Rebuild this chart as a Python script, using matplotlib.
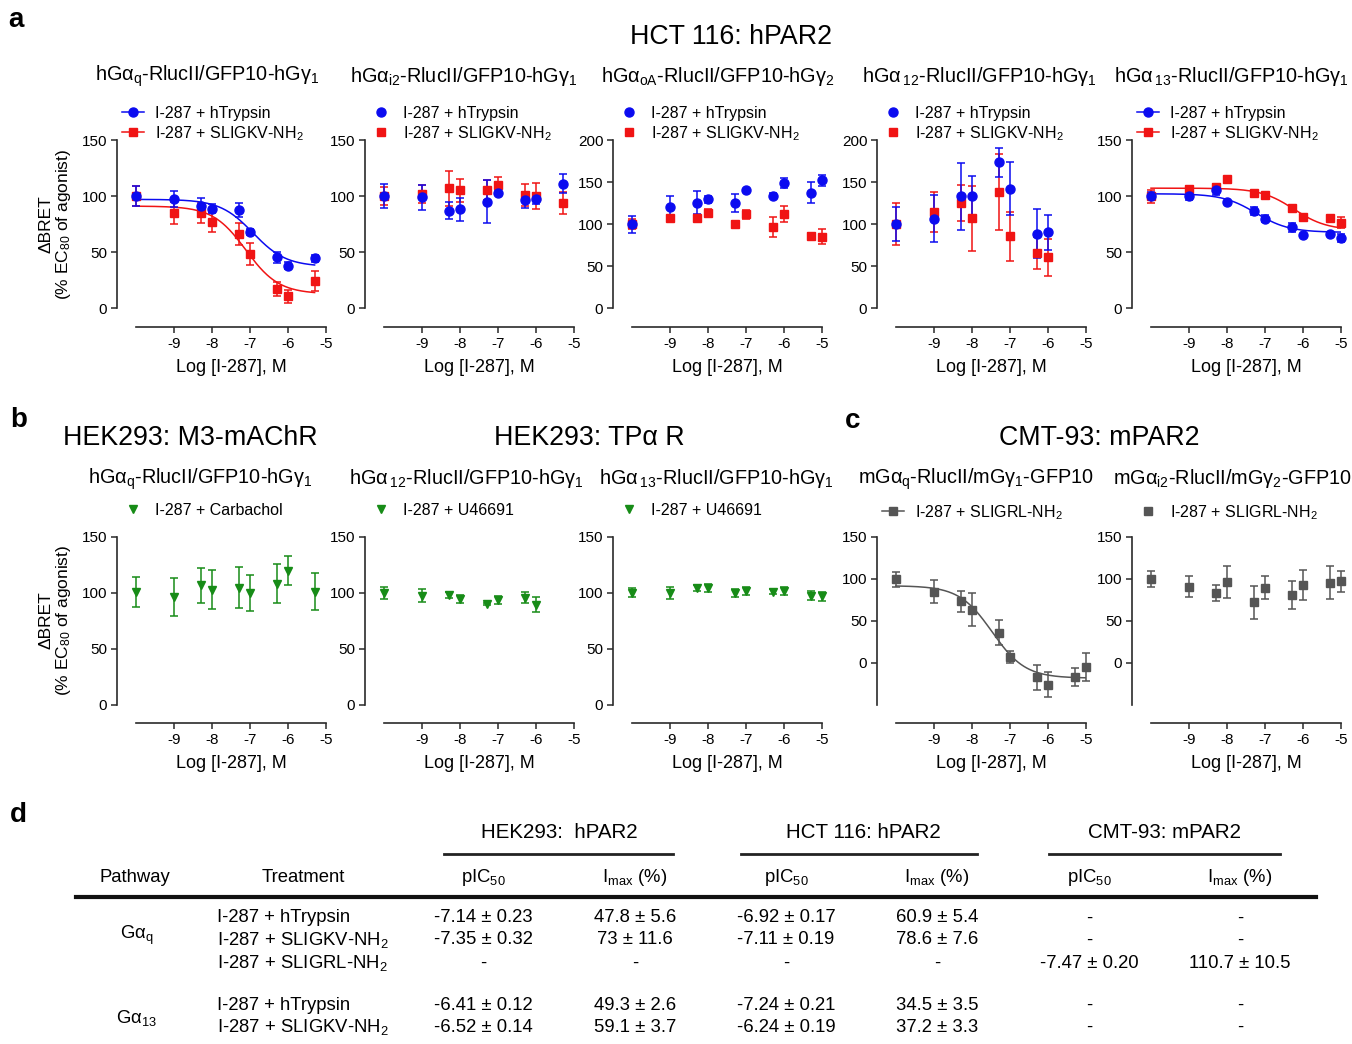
#!/usr/bin/env python
# -*- coding: utf-8 -*-

"""
I-287 concentration-response curves (BRET, % EC80 of agonist) for
HCT 116, HEK293 and CMT-93 cells, plus the summary table of pIC50 / Imax.
"""

import numpy as np
import matplotlib.pyplot as plt
from matplotlib.lines import Line2D

plt.rcParams['font.family'] = ['Liberation Sans', 'DejaVu Sans']
plt.rcParams['mathtext.fontset'] = 'custom'
plt.rcParams['mathtext.rm'] = 'Liberation Sans'
plt.rcParams['mathtext.it'] = 'Liberation Sans:italic'
plt.rcParams['mathtext.bf'] = 'Liberation Sans:bold'
plt.rcParams['mathtext.default'] = 'regular'
plt.rcParams['axes.unicode_minus'] = False

# --- Data ---------------------------------------------------------------
# log [I-287] (M); -10 stands for the vehicle point
log_dose = [-10, -9, -8.3, -8, -7.3, -7, -6.3, -6, -5.3, -5]

# a: HCT 116 hPAR2
a_gq_tryp = [100, 97.3, 91, 88.7, 87.6, 67.8, 45.4, 37.7, 44.2]
a_gq_tryp_err = [9, 7, 7, 4, 6, 3, 5, 3, 3]
a_gq_slig = [100, 84.6, 84.9, 76.6, 66, 48.3, 16.8, 10.3, 24.4]
a_gq_slig_err = [9, 10, 9, 9, 10, 10, 6.5, 6, 9]

a_gi2_tryp = [100, 98.8, 87, 88, 95, 103, 96.5, 97.6, 111]
a_gi2_tryp_err = [11, 11, 7.5, 10.5, 19, 2, 7.5, 5, 8.5]
a_gi2_slig = [100, 102, 107, 105, 105.2, 109.4, 101, 100, 93.7]
a_gi2_slig_err = [8, 8, 15.5, 10, 9, 8, 10, 12, 9.5]

a_goa_tryp = [99.6, 120, 125.3, 129.2, 125.3, 140, 133.6, 149, 137.5, 151.8]
a_goa_tryp_err = [10, 13.7, 13.4, 4, 10.7, 2, 3, 6, 12, 6.5]
a_goa_slig = [99.6, 106.7, 106.7, 113, 100, 111.5, 96.4, 111.9, 85.8, 84.6]
a_goa_slig_err = [6, 3, 3, 5, 4, 5, 11.5, 9, 3, 9]

a_g12_tryp = [100, 106.3, 133.2, 133.2, 173.5, 142, 88.5, 90.1]
a_g12_tryp_err = [20.7, 28, 40, 24, 17, 31.6, 29, 20.5]
a_g12_slig = [100, 114.2, 125, 106.7, 138, 85.4, 65.6, 60.5]
a_g12_slig_err = [25.5, 24, 21, 39, 45, 29, 19, 22]

a_g13_tryp = [100, 100, 105.3, 94.7, 86.4, 79.6, 71.9, 64.8, 66.3, 62.7]
a_g13_tryp_err = [4, 4, 4, 1, 3.5, 3, 4, 0.5, 1.5, 3.5]
a_g13_slig = [99.7, 106.2, 107.7, 114.8, 102.4, 100.9, 89, 81, 80.8, 76.3]
a_g13_slig_err = [6, 3, 3, 0.5, 0.5, 0.5, 2, 0.5, 0.5, 5]

# fitted curves: top, bottom, logIC50
a_gq_tryp_fit = (97, 37, -6.92)
a_gq_slig_fit = (91, 12.6, -7.11)
a_g13_tryp_fit = (102, 67.6, -7.24)
a_g13_slig_fit = (107, 69.5, -6.24)

# b: HEK293 M3-mAChR / TPaR
b_gq_carb = [100.9, 96.4, 106.8, 103, 104.7, 100, 108.3, 120, 101]
b_gq_carb_err = [13.8, 16.6, 15.4, 17.5, 18.3, 15.8, 17.6, 13.3, 16.6]
b_g12_u46 = [100, 97.6, 98.2, 94.4, 90.5, 93.5, 95.9, 89.6]
b_g12_u46_err = [5.6, 5.6, 2.5, 3.5, 1, 3.5, 5, 6.4]
b_g13_u46 = [100.3, 100, 104.4, 104.1, 100, 101.5, 101.2, 101.8, 97.6, 97.3]
b_g13_u46_err = [4, 5.3, 2.5, 3.5, 3.5, 3.5, 2.5, 4, 4, 4]

# c: CMT-93 mPAR2
c_gq_sligrl = [99.9, 84.9, 73.4, 63.2, 36.3, 7.1, -17, -26, -17, -5.1]
c_gq_sligrl_err = [9, 13.8, 12.4, 19.7, 14.8, 6.9, 14.8, 14.8, 10.5, 16.8]
c_gi2_sligrl = [99.9, 90.8, 83.3, 96.7, 72.2, 89.6, 80.9, 92.8, 95.5, 97.5]
c_gi2_sligrl_err = [10, 12.8, 10, 18.8, 19.7, 13.8, 16.2, 18, 19.5, 12.4]
c_gq_sligrl_fit = (92, -18, -7.47)

# d: summary table
table_groups = ['HEK293:  hPAR2', 'HCT 116: hPAR2', 'CMT-93: mPAR2']
table_treatments = ['I-287 + hTrypsin', 'I-287 + SLIGKV-NH$_2$', 'I-287 + SLIGRL-NH$_2$',
                    'I-287 + hTrypsin', 'I-287 + SLIGKV-NH$_2$']
table_hek_pic50 = ['-7.14 ± 0.23', '-7.35 ± 0.32', '-', '-6.41 ± 0.12', '-6.52 ± 0.14']
table_hek_imax = ['47.8 ± 5.6', '73 ± 11.6', '-', '49.3 ± 2.6', '59.1 ± 3.7']
table_hct_pic50 = ['-6.92 ± 0.17', '-7.11 ± 0.19', '-', '-7.24 ± 0.21', '-6.24 ± 0.19']
table_hct_imax = ['60.9 ± 5.4', '78.6 ± 7.6', '-', '34.5 ± 3.5', '37.2 ± 3.3']
table_cmt_pic50 = ['-', '-', '-7.47 ± 0.20', '-', '-']
table_cmt_imax = ['-', '-', '110.7 ± 10.5', '-', '-']

BLUE = '#0b0bf0'
RED = '#f01414'
GREEN = '#178c17'
GREY = '#555555'
AXC = '#2a2a2a'

W, H = 1352, 1044
fig = plt.figure(figsize=(W / 100, H / 100), dpi=100)

# overlay in pixel coordinates for all free text and the table
ov = fig.add_axes([0, 0, 1, 1])
ov.set_xlim(0, W)
ov.set_ylim(H, 0)
ov.axis('off')
ov.patch.set_visible(False)


def logistic(x, fit):
    top, bottom, logic50 = fit
    return bottom + (top - bottom) / (1 + 10 ** (x - logic50))


def make_axes(left, top_px, bottom_px, ymax, ymin_spine, ylim_bottom):
    ax = fig.add_axes([left / W, 1 - bottom_px / H, 209 / W, (bottom_px - top_px) / H])
    ax.set_xlim(-10.5, -5)
    ax.set_ylim(ylim_bottom, ymax)
    for side in ('top', 'right'):
        ax.spines[side].set_visible(False)
    for side in ('left', 'bottom'):
        ax.spines[side].set_linewidth(1.2)
        ax.spines[side].set_color(AXC)
    ax.spines['bottom'].set_bounds(-10, -5)
    ax.spines['left'].set_bounds(ymin_spine, ymax)
    ax.set_xticks([-9, -8, -7, -6, -5])
    ax.set_xticklabels(['-9', '-8', '-7', '-6', '-5'])
    ax.set_yticks(np.arange(0, ymax + 1, 50))
    ax.tick_params(direction='out', length=4, width=1.1, color=AXC, labelsize=11, pad=3)
    # label centred on the drawn part of the x axis (-10 .. -5)
    ax.set_xlabel('Log [I-287], M', fontsize=13)
    ax.xaxis.set_label_coords(3.0 / 5.5, -0.17)
    return ax


def plot_series(ax, y, err, color, marker, ms, fit=None, fit_end=None):
    x = log_dose[:len(y)]
    ax.errorbar(x, y, yerr=err, fmt=marker, color=color, ms=ms, mec=color,
                ecolor=color, elinewidth=1.1, capsize=3, capthick=1.1, clip_on=False)
    if fit is not None:
        xs = np.linspace(-10, fit_end, 200)
        ax.plot(xs, logistic(xs, fit), color=color, lw=1.1)


def add_legend(ax, left, top_px, entries, with_line):
    handles = []
    labels = []
    for label, color, marker, ms in entries:
        handles.append(Line2D([], [], color=color, marker=marker, ms=ms,
                              ls='-' if with_line else 'none', lw=1.1))
        labels.append(label)
    ax.legend(handles, labels, loc='upper left', frameon=False,
              bbox_to_anchor=((left + 5) / W, 1 - top_px / H), bbox_transform=fig.transFigure,
              borderpad=0, borderaxespad=0, handlelength=1.4, handletextpad=0.65,
              labelspacing=0.18, fontsize=11.5)


cols = [117, 365, 613, 877, 1132]
tryp_lbl = 'I-287 + hTrypsin'
slig_lbl = 'I-287 + SLIGKV-NH$_2$'

# --- Row a ---
row_a = [
    (a_gq_tryp, a_gq_tryp_err, a_gq_slig, a_gq_slig_err, 150, a_gq_tryp_fit, a_gq_slig_fit, -5.3),
    (a_gi2_tryp, a_gi2_tryp_err, a_gi2_slig, a_gi2_slig_err, 150, None, None, None),
    (a_goa_tryp, a_goa_tryp_err, a_goa_slig, a_goa_slig_err, 200, None, None, None),
    (a_g12_tryp, a_g12_tryp_err, a_g12_slig, a_g12_slig_err, 200, None, None, None),
    (a_g13_tryp, a_g13_tryp_err, a_g13_slig, a_g13_slig_err, 150, a_g13_tryp_fit, a_g13_slig_fit, -5),
]
for left, (yt, et, ys, es, ymax, ft, fs, fend) in zip(cols, row_a):
    px_per_unit = 168 / ymax
    ax = make_axes(left, 140, 327, ymax, 0, -19 / px_per_unit)
    plot_series(ax, ys, es, RED, 's', 6, fs, fend)
    plot_series(ax, yt, et, BLUE, 'o', 6.5, ft, fend)
    add_legend(ax, left, 106, [(tryp_lbl, BLUE, 'o', 6.5), (slig_lbl, RED, 's', 6)], ft is not None)

# --- Row b / c ---
row_b = [
    (b_gq_carb, b_gq_carb_err, GREEN, 'v', 5.5, 'I-287 + Carbachol', False),
    (b_g12_u46, b_g12_u46_err, GREEN, 'v', 5.5, 'I-287 + U46691', False),
    (b_g13_u46, b_g13_u46_err, GREEN, 'v', 5.5, 'I-287 + U46691', False),
    (c_gq_sligrl, c_gq_sligrl_err, GREY, 's', 6, 'I-287 + SLIGRL-NH$_2$', True),
    (c_gi2_sligrl, c_gi2_sligrl_err, GREY, 's', 6, 'I-287 + SLIGRL-NH$_2$', True),
]
for i, (left, (y, e, color, marker, ms, lbl, mouse)) in enumerate(zip(cols, row_b)):
    if mouse:
        ax = make_axes(left, 537, 723, 150, -50, -50 - 18 / 0.84)
    else:
        ax = make_axes(left, 537, 723, 150, 0, -18 / 1.12)
    fit = c_gq_sligrl_fit if i == 3 else None
    plot_series(ax, y, e, color, marker, ms, fit, -5)
    add_legend(ax, left, 503, [(lbl, color, marker, ms)], fit is not None)

# --- Titles and labels ---
ov.text(8, 20, 'a', fontsize=20, fontweight='bold', va='center', ha='left')
ov.text(10, 420, 'b', fontsize=20, fontweight='bold', va='center', ha='left')
ov.text(845, 421, 'c', fontsize=20, fontweight='bold', va='center', ha='left')
ov.text(10, 815, 'd', fontsize=20, fontweight='bold', va='center', ha='left')

ov.text(731, 37, 'HCT 116: hPAR2', fontsize=19.3, ha='center', va='center')
ov.text(190, 438, 'HEK293: M3-mAChR', fontsize=19.3, ha='center', va='center')
ov.text(589, 438, 'HEK293: TPα R', fontsize=19.3, ha='center', va='center')
ov.text(1099, 438, 'CMT-93: mPAR2', fontsize=19.3, ha='center', va='center')

titles_a = ['hGα$_q$-RlucII/GFP10-hGγ$_1$', 'hGα$_{i2}$-RlucII/GFP10-hGγ$_1$',
            'hGα$_{oA}$-RlucII/GFP10-hGγ$_2$', 'hGα$\\,_{12}$-RlucII/GFP10-hGγ$_1$',
            'hGα$\\,_{13}$-RlucII/GFP10-hGγ$_1$']
titles_b = ['hGα$_q$-RlucII/GFP10-hGγ$_1$', 'hGα$\\,_{12}$-RlucII/GFP10-hGγ$_1$',
            'hGα$\\,_{13}$-RlucII/GFP10-hGγ$_1$', 'mGα$_q$-RlucII/mGγ$_1$-GFP10',
            'mGα$_{i2}$-RlucII/mGγ$_2$-GFP10']
for xc, t in zip([207, 464, 718, 979, 1231], titles_a):
    ov.text(xc, 76, t, fontsize=14.3, ha='center', va='center')
for xc, t in zip([200, 466, 716, 976, 1232], titles_b):
    ov.text(xc, 479, t, fontsize=14.3, ha='center', va='center')

ylab = 'ΔBRET\n(% EC$_{80}$ of agonist)'
ov.text(56, 224, ylab, fontsize=12.5, rotation=90, ha='center', va='center', multialignment='center',
        linespacing=1.05)
ov.text(56, 620, ylab, fontsize=12.5, rotation=90, ha='center', va='center', multialignment='center',
        linespacing=1.05)

# --- Table d ---
tfs = 13.3
for xc, g, (x0, x1) in zip([559, 863, 1165], table_groups, [(444, 673), (741, 977), (1049, 1280)]):
    ov.text(xc, 833, g, fontsize=14.8, ha='center', va='center')
    ov.plot([x0, x1], [854, 854], color='#222222', lw=2)
ov.plot([76, 1316], [897, 897], color='#111111', lw=3)

ov.text(135, 878, 'Pathway', fontsize=tfs, ha='center', va='center')
ov.text(303, 878, 'Treatment', fontsize=tfs, ha='center', va='center')
val_cols = [483, 635, 786, 937, 1089, 1240]
for xc, h in zip(val_cols, ['pIC$_{50}$', 'I$_{max}$ (%)'] * 3):
    ov.text(xc, 878, h, fontsize=tfs, ha='center', va='center')

row_y = [918, 940, 963, 1005, 1027]
ov.text(137, 935, 'Gα$_q$', fontsize=tfs, ha='center', va='center')
ov.text(137, 1018, 'Gα$_{13}$', fontsize=tfs, ha='center', va='center')
columns = [table_hek_pic50, table_hek_imax, table_hct_pic50, table_hct_imax,
           table_cmt_pic50, table_cmt_imax]
for r, yy in enumerate(row_y):
    ov.text(217, yy, table_treatments[r], fontsize=tfs, ha='left', va='center')
    for xc, col in zip(val_cols, columns):
        ov.text(xc, yy, col[r], fontsize=tfs, ha='center', va='center')

plt.savefig('out.png', dpi=100)
plt.close(fig)
